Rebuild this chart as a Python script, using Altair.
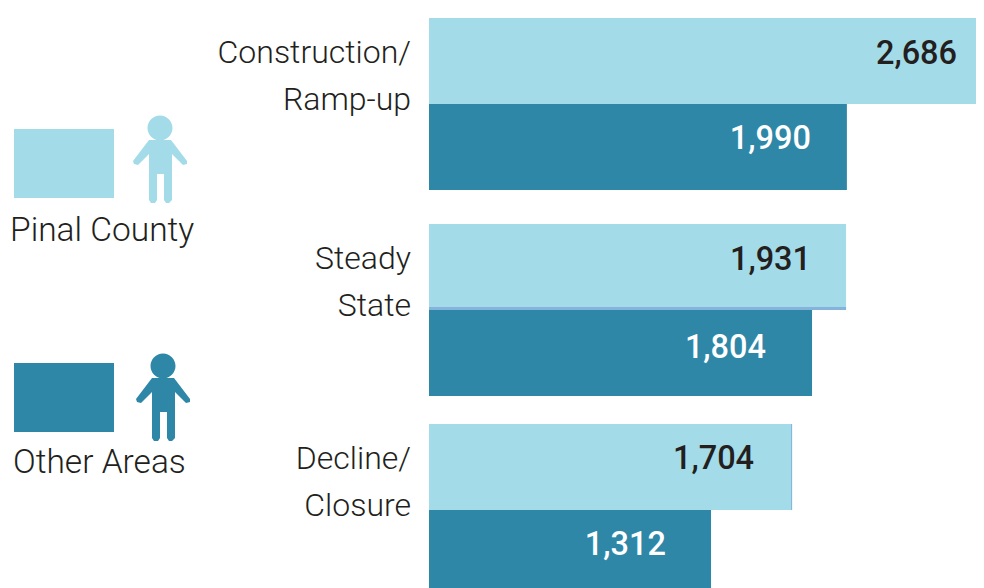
import altair as alt
import pandas as pd

# Data
periods = ["Construction/\nRamp-up", "Steady\nState", "Decline/\nClosure"]
pinal_values = [2686, 1931, 1704]
other_values = [1990, 1804, 1312]
# The printed bars are not exactly proportional to their labels: drawn lengths, in label units
pinal_drawn = [2686, 1986, 1729]
other_drawn = [1990, 1824, 1343]
series_names = ["Pinal County", "Other Areas"]

LIGHT, DARK, INK = "#A3DCE8", "#2F87A8", "#231F20"
FONT = "Roboto"
PX_PER_UNIT = 0.21
SLOT_PX = 86

# label placement nudges, in pixels
label_inset = [[28, 38, 38], [36, 38, 45]]
label_inset = [[28 + 8, 38 - 3, 38], [36, 46, 45]]
label_lift = [[7, 7, 8], [8, 5, 8]]

rows, cat_rows = [], []
for g, period in enumerate(periods):
    for s, (vals, drawn) in enumerate(((pinal_values, pinal_drawn), (other_values, other_drawn))):
        slot = g * 3 + s
        rows.append({
            "slot": slot, "slot2": slot + 1, "len": drawn[g], "value": f"{vals[g]:,}",
            "series": series_names[s],
            "tx": drawn[g] - label_inset[s][g] / PX_PER_UNIT,
            "ty": slot + 0.5 - label_lift[s][g] / SLOT_PX,
        })
    for i, line in enumerate(period.split("\n")):
        cat_rows.append({"line": line, "ty": g * 3 + (0.406 if i == 0 else 0.951)})
bars = pd.DataFrame(rows)
cats = pd.DataFrame(cat_rows)

yscale = alt.Scale(domain=[0, 2, 3, 5, 6, 8], range=[10, 182, 216, 388, 416, 588])
xscale = alt.Scale(domain=[0, 2686], range=[421, 421 + 2686 * PX_PER_UNIT])
colors = alt.Scale(domain=series_names, range=[LIGHT, DARK])
Y = lambda f: alt.Y(f, type="quantitative", scale=yscale, axis=None)
X = lambda f: alt.X(f, type="quantitative", scale=xscale, axis=None)

bar_layer = alt.Chart(bars).mark_rect().encode(
    x=alt.X("zero:Q", scale=xscale, axis=None), x2="len:Q",
    y=Y("slot"), y2="slot2:Q",
    color=alt.Color("series:N", scale=colors, legend=None),
).transform_calculate(zero="0")

edge_h = alt.Chart(pd.DataFrame({"a": [0], "b": [pinal_drawn[1]], "y": [4 - 1.5 / SLOT_PX]})).mark_rule(
    color="#85B3DC", strokeWidth=3).encode(x=X("a"), x2="b:Q", y=Y("y"))
edge_v = alt.Chart(pd.DataFrame({"x": [pinal_drawn[2] - 0.5 / PX_PER_UNIT], "y": [6], "y2": [7]})).mark_rule(
    color="#85B3DC", strokeWidth=1).encode(x=X("x"), y=Y("y"), y2="y2:Q")

def value_text(series, color):
    return alt.Chart(bars[bars.series == series]).mark_text(
        font=FONT, fontSize=32.5, fontWeight=500, align="right", baseline="middle", color=color).encode(
        x=X("tx"), y=Y("ty"), text="value:N")

cat_labels = alt.Chart(cats).mark_text(
    font=FONT, fontSize=32, fontWeight=300, align="right", baseline="middle", color=INK).encode(
    x=alt.value(403), y=Y("ty"), text="line:N")

def legend_rect(color, top):
    return alt.Chart(pd.DataFrame({"k": [0]})).mark_rect(color=color).encode(
        x=alt.value(6), x2=alt.value(106), y=alt.value(top), y2=alt.value(top + 69))

def legend_text(text, x, y):
    return alt.Chart(pd.DataFrame({"t": [text]})).mark_text(
        font=FONT, fontSize=33.5, fontWeight=300, align="left", baseline="alphabetic", color=INK).encode(
        x=alt.value(x), y=alt.value(y), text="t:N")

P = [(-11, 12), (11, 12), (27, 33), (27, 36), (23, 37), (12, 26), (12, 72), (9, 75), (6, 75), (4, 72),
     (4, 46), (-3, 46), (-3, 72), (-5, 75), (-9, 75), (-11, 72), (-11, 26), (-22, 37), (-26, 36), (-27, 33)]
body = "M" + " L".join(f"{x / 100:.2f} {y / 100:.2f}" for x, y in P) + " Z"
PERSON = "M-0.125 0 A0.125 0.125 0 1 1 0.125 0 A0.125 0.125 0 1 1 -0.125 0 Z " + body

def person(color, x, y):
    return alt.Chart(pd.DataFrame({"k": [0]})).mark_point(
        shape=PERSON, size=40000, filled=True, color=color, opacity=1).encode(
        x=alt.value(x), y=alt.value(y))

chart = alt.layer(
    bar_layer, edge_h, edge_v,
    value_text(series_names[0], INK), value_text(series_names[1], "#FFFFFF"),
    cat_labels,
    legend_rect(LIGHT, 121), legend_rect(DARK, 355),
    person(LIGHT, 152, 120), person(DARK, 155, 358),
    legend_text(series_names[0], 2, 233), legend_text(series_names[1], 5, 465),
).properties(
    width=968, height=580, padding=0, autosize=alt.AutoSizeParams(type="none"),
).configure_view(stroke=None)

chart.save("out.html", embed_options={"renderer": "svg", "actions": False})
